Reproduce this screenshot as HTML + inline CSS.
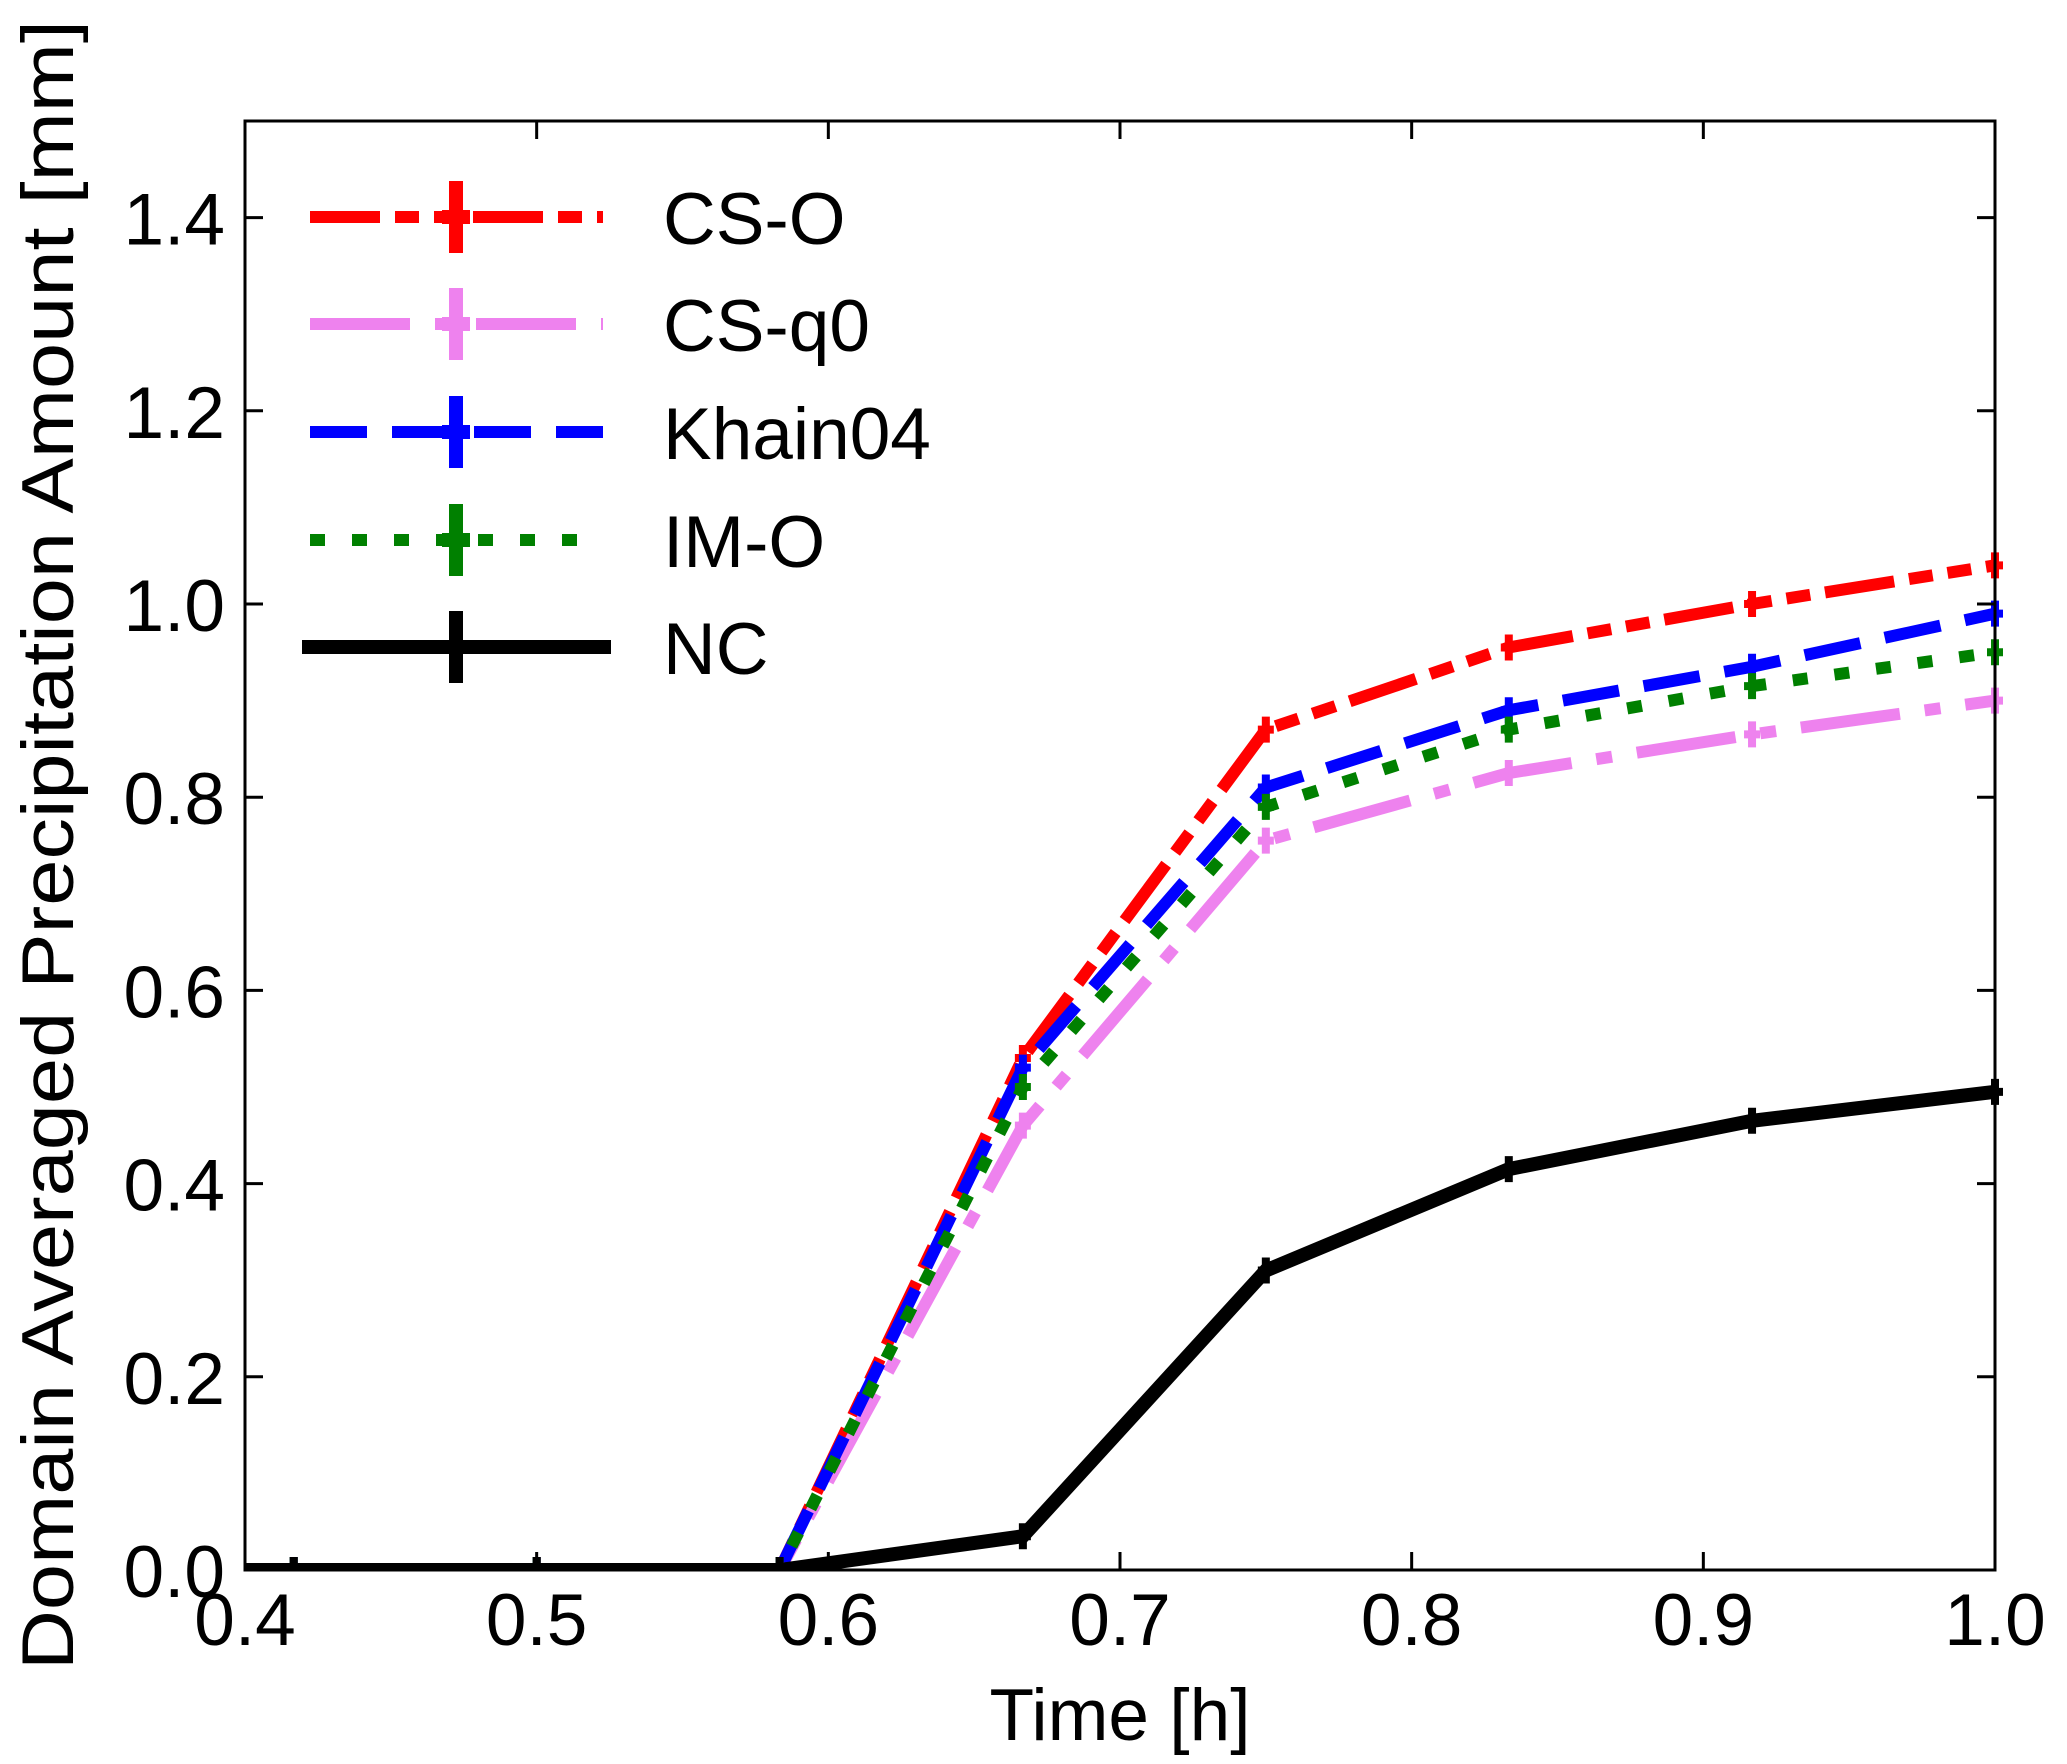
<!DOCTYPE html>
<html><head><meta charset="utf-8"><style>
html,body{margin:0;padding:0;background:#fff;}
svg{display:block;font-family:"Liberation Sans","DejaVu Sans",sans-serif;}
</style></head><body>
<svg id="chart" width="2067" height="1764" viewBox="0 0 2067 1764" xmlns="http://www.w3.org/2000/svg">
<g id="plot"></g>
</svg>
<script>
const times = [0.3333, 0.4167, 0.5, 0.5833, 0.6667, 0.75, 0.8333, 0.9167, 1.0];
const csO    = [0, 0, 0, 0, 0.53, 0.87, 0.955, 1.0, 1.04];
const csQ0   = [0, 0, 0, 0, 0.46, 0.755, 0.825, 0.865, 0.90];
const khain  = [0, 0, 0, 0, 0.52, 0.81, 0.89, 0.935, 0.99];
const imO    = [0, 0, 0, 0, 0.50, 0.79, 0.87, 0.915, 0.95];
const nc     = [0, 0, 0, 0, 0.035, 0.31, 0.415, 0.465, 0.495];
const xTicks = [0.4, 0.5, 0.6, 0.7, 0.8, 0.9, 1.0];
const xTickLabels = ["0.4","0.5","0.6","0.7","0.8","0.9","1.0"];
const yTicks = [0, 0.2, 0.4, 0.6, 0.8, 1.0, 1.2, 1.4];
const yTickLabels = ["0.0","0.2","0.4","0.6","0.8","1.0","1.2","1.4"];
const seriesNames = ["CS-O","CS-q0","Khain04","IM-O","NC"];

const L=245, R=1995, T=121, B=1570;
const xMin=0.4, xMax=1.0, yMin=0, yMax=1.5;
const X = v => L + (v-xMin)/(xMax-xMin)*(R-L);
const Y = v => B - (v-yMin)/(yMax-yMin)*(B-T);
const NS="http://www.w3.org/2000/svg";
const svg=document.getElementById('chart');
const g=document.getElementById('plot');
function el(tag, attrs, parent){const e=document.createElementNS(NS,tag);for(const k in attrs)e.setAttribute(k,attrs[k]);(parent||g).appendChild(e);return e;}

const styles=[
 {data:csO,color:"#ff0000",dash:"70 15 24 15 24 15",w:12,name:"series-cs-o"},
 {data:csQ0,color:"#ee82ee",dash:"100 25 16 25",w:12,name:"series-cs-q0"},
 {data:khain,color:"#0000ff",dash:"57 25",w:12,name:"series-khain04"},
 {data:imO,color:"#008000",dash:"15 27",w:12,name:"series-im-o"},
 {data:nc,color:"#000000",dash:"none",w:14,name:"series-nc"}
];

const clip=el('clipPath',{id:'clip'},svg);
el('rect',{x:L,y:T-20,width:R-L+20,height:B-T+20},clip);
const series=el('g',{'clip-path':'url(#clip)'});


styles.forEach((s)=>{
  const pts=times.map((t,i)=>X(t)+","+Y(s.data[i])).join(" ");
  const pl=el('polyline',{points:pts,fill:'none',stroke:s.color,'stroke-width':s.w,'stroke-dasharray':s.dash,'stroke-linejoin':'miter'},series);
  
  
  times.forEach((t,i)=>{
    const cx=X(t), cy=Y(s.data[i]);
    const m=el('path',{d:`M${cx-8},${cy}H${cx+8}M${cx},${cy-13}V${cy+13}`,stroke:s.color,'stroke-width':8},series);
    
    
  });
});

const frame=el('rect',{x:L,y:T,width:R-L,height:B-T,fill:'none',stroke:'#000','stroke-width':3});



xTicks.forEach((v,i)=>{
  const x=X(v);
  const t1=el('line',{x1:x,y1:B,x2:x,y2:B-18,stroke:'#000','stroke-width':3});
  
  
  const t2=el('line',{x1:x,y1:T,x2:x,y2:T+18,stroke:'#000','stroke-width':3});
  
  
  const tx=el('text',{x:x,y:1645,'font-size':73,'text-anchor':'middle'});
  tx.textContent=xTickLabels[i];
  
  
});
yTicks.forEach((v,i)=>{
  const y=Y(v);
  const t1=el('line',{x1:L,y1:y,x2:L+18,y2:y,stroke:'#000','stroke-width':3});
  
  
  const t2=el('line',{x1:R,y1:y,x2:R-18,y2:y,stroke:'#000','stroke-width':3});
  
  
  const tx=el('text',{x:225,y:y+27,'font-size':73,'text-anchor':'end'});
  tx.textContent=yTickLabels[i];
  
  
});

const xt=el('text',{x:1120,y:1740,'font-size':73,'text-anchor':'middle'});
xt.textContent="Time [h]";


const yt=el('text',{x:0,y:0,'font-size':73,'text-anchor':'middle',transform:'translate(73,845) rotate(-90)',textLength:1650,lengthAdjust:'spacingAndGlyphs'});
yt.textContent="Domain Averaged Precipitation Amount [mm]";



const legY=[217,324,432,540,647];
const leg=el('g',{});


styles.forEach((s,i)=>{
  const y=legY[i];
  const x1= i===4?302:310, x2= i===4?611:603;
  const ln=el('line',{x1:x1,y1:y,x2:x2,y2:y,stroke:s.color,'stroke-width':i===4?14:12,'stroke-dasharray':s.dash},leg);
  
  
  const mk=el('path',{d:`M${456-14},${y}H${456+14}M456,${y-36}V${y+36}`,stroke:s.color,'stroke-width':14},leg);
  
  
  const tx=el('text',{x:663,y:y+27,'font-size':73},leg);
  tx.textContent=seriesNames[i];
  
  
});
</script>
</body></html>
